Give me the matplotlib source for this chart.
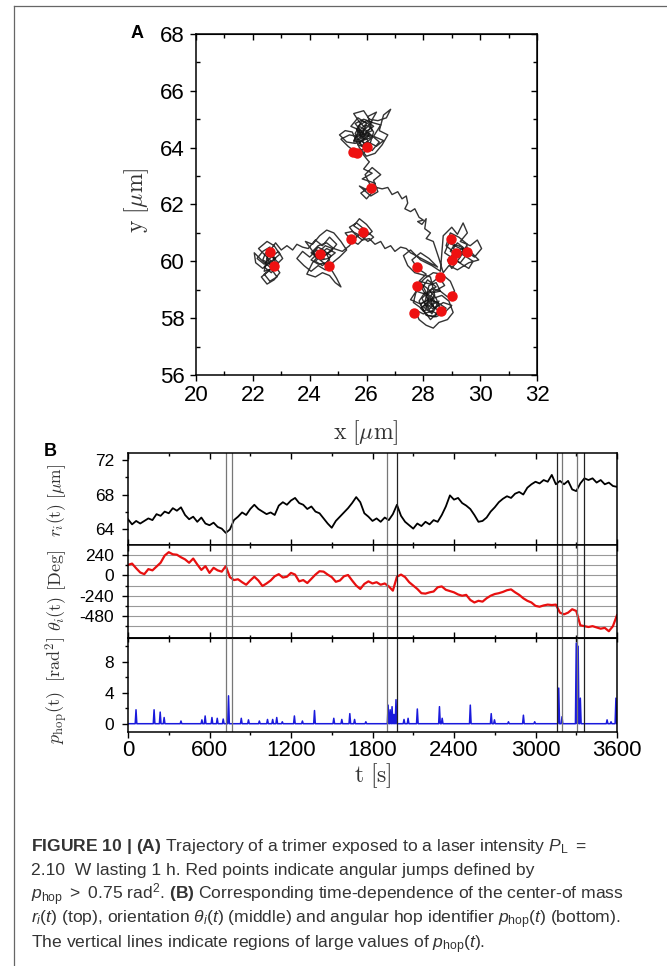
import numpy as np
import matplotlib
matplotlib.use("Agg")
import matplotlib.pyplot as plt
from matplotlib.ticker import MultipleLocator
from matplotlib.lines import Line2D

plt.rcParams['font.family'] = ['Liberation Sans', 'DejaVu Sans']
plt.rcParams['mathtext.fontset'] = 'cm'
plt.rcParams['mathtext.rm'] = 'Liberation Sans'
plt.rcParams['mathtext.it'] = 'Liberation Sans:italic'
plt.rcParams['mathtext.bf'] = 'Liberation Sans:bold'
plt.rcParams['axes.unicode_minus'] = False

W, H = 667, 966

# ---- panel A: trajectory, hand traced blob by blob ----
left_blob = [(22.60, 60.50), (22.35, 60.35), (22.15, 60.10), (22.40, 59.90), (22.65, 60.15),
             (22.90, 60.35), (23.05, 60.10), (22.80, 59.85), (22.55, 59.65), (22.30, 59.45),
             (22.50, 59.20), (22.75, 59.35), (22.95, 59.60), (22.70, 59.95), (22.45, 60.20),
             (22.20, 60.45), (22.50, 60.70), (22.75, 60.55), (22.95, 60.25), (22.65, 60.00),
             (22.35, 59.75), (22.10, 59.95), (22.05, 60.30), (22.30, 60.05), (22.60, 59.80),
             (22.85, 59.45), (22.60, 59.30), (22.40, 59.55), (22.65, 59.75), (22.90, 59.95),
             (22.55, 60.30), (22.80, 60.65)]
left_link = [(23.00, 60.40), (23.20, 60.55), (23.40, 60.40), (23.55, 60.60), (23.75, 60.50)]
mid_blob = [(23.95, 60.45), (24.20, 60.75), (24.45, 60.55), (24.70, 60.85), (24.95, 60.60),
            (24.75, 60.35), (24.50, 60.20), (24.25, 60.40), (24.00, 60.15), (23.75, 60.35),
            (23.55, 60.10), (23.80, 59.85), (24.05, 59.65), (24.30, 59.85), (24.55, 59.70),
            (24.80, 59.95), (25.05, 60.15), (25.30, 60.40), (25.10, 60.70), (24.85, 61.00),
            (24.60, 61.10), (24.35, 60.90), (24.10, 60.60), (23.85, 60.70), (24.15, 60.30),
            (24.40, 60.05), (24.65, 60.10), (24.90, 60.30), (24.60, 60.45), (24.35, 60.25),
            (24.10, 59.95), (23.90, 59.55), (24.20, 59.45), (24.45, 59.60), (24.70, 59.50),
            (24.90, 59.25), (25.10, 59.10), (24.95, 59.40), (24.80, 59.65), (24.55, 59.90),
            (24.30, 60.10), (24.05, 60.30), (24.30, 60.55), (24.60, 60.65), (24.85, 60.45),
            (25.15, 60.35), (25.40, 60.55)]
mid_lobe = [(25.60, 60.80), (25.85, 61.05), (25.55, 61.25), (25.75, 61.50), (26.00, 61.30),
            (26.20, 61.05), (25.95, 60.85), (25.70, 60.60), (25.45, 60.75), (25.25, 61.00),
            (25.50, 61.05), (25.80, 60.90), (26.05, 60.70), (26.25, 60.85), (25.90, 61.15),
            (25.65, 61.35), (25.40, 61.20), (25.60, 60.95), (25.85, 60.75)]
mid_link = [(26.10, 60.80), (26.30, 60.60), (26.50, 60.70), (26.65, 60.45), (26.85, 60.55),
            (27.00, 60.35), (27.20, 60.50), (27.40, 60.45), (27.55, 60.30)]
right_blob = [(28.50, 59.80), (28.20, 60.10), (27.90, 60.30), (27.60, 60.05), (27.80, 59.75),
              (28.10, 59.55), (27.85, 59.30), (28.25, 59.20), (28.55, 59.45), (28.75, 59.15),
              (28.40, 58.95), (28.05, 58.85), (27.75, 58.95), (27.55, 58.65), (27.90, 58.50),
              (28.20, 58.65), (28.50, 58.55), (28.80, 58.35), (28.60, 58.10), (28.30, 58.25),
              (28.00, 58.15), (27.70, 58.30), (27.85, 57.95), (28.10, 57.75), (28.35, 57.65),
              (28.55, 57.85), (28.85, 57.95), (29.05, 58.20), (28.90, 58.60), (28.65, 58.80),
              (28.35, 58.70), (28.10, 58.40), (27.95, 58.70), (28.20, 58.95), (28.45, 59.10),
              (28.15, 59.35), (27.95, 59.05), (28.30, 58.45), (28.55, 58.25), (28.25, 57.95),
              (28.00, 58.30), (27.65, 58.55), (27.80, 59.15), (28.05, 59.40), (28.35, 59.60),
              (28.65, 59.55), (28.95, 59.30), (29.10, 58.95), (28.85, 58.75), (28.60, 58.95),
              (28.30, 59.05), (28.10, 58.75), (28.40, 58.35), (28.70, 58.55), (29.00, 58.45),
              (28.75, 58.20), (28.45, 58.05), (28.15, 58.10), (27.90, 58.35), (28.15, 58.55),
              (28.40, 58.80), (28.25, 59.45), (27.70, 59.60), (27.45, 59.85), (27.30, 60.20),
              (27.55, 60.40), (27.90, 60.05), (28.30, 59.85), (28.60, 59.65)]
right_lobe = [(28.70, 60.90), (29.00, 61.20), (29.20, 60.95), (29.40, 61.35), (29.55, 61.00),
              (29.30, 60.70), (29.65, 60.55), (29.90, 60.75), (30.05, 60.45), (29.80, 60.15),
              (29.50, 60.35), (29.20, 60.50), (28.90, 60.65), (28.75, 60.30), (29.05, 60.10),
              (29.35, 59.90), (29.60, 59.75), (29.75, 60.00), (29.45, 60.20), (29.15, 60.35),
              (28.85, 60.05), (29.00, 59.75), (29.30, 60.15), (29.55, 60.60), (29.25, 60.85),
              (28.95, 61.00), (28.80, 60.55), (29.10, 60.30), (29.40, 60.45), (29.70, 60.30),
              (29.95, 60.05), (29.60, 59.95), (29.20, 59.70), (28.90, 59.85), (28.70, 59.60),
              (28.55, 60.10)]
diag_path = [(28.35, 60.70), (28.10, 60.80), (28.25, 61.00), (28.05, 61.15), (28.10, 61.50),
             (27.95, 61.30), (27.80, 61.40), (28.00, 61.45), (27.85, 61.55), (27.70, 61.85),
             (27.55, 61.75), (27.35, 61.85), (27.45, 62.05), (27.40, 62.30), (27.25, 62.20),
             (27.10, 62.45), (26.90, 62.35), (26.75, 62.60), (26.55, 62.55)]
neck = [(26.35, 62.60), (26.00, 62.20), (25.80, 62.40), (26.15, 62.65), (25.95, 63.05),
        (26.20, 63.30), (26.50, 63.05), (26.25, 62.85), (26.40, 62.45), (26.15, 62.30),
        (25.75, 62.65), (26.05, 62.50), (26.30, 62.75), (25.85, 62.90), (26.20, 63.10),
        (25.90, 63.25), (26.10, 63.50)]
top_blob = [(26.05, 63.55), (25.85, 63.80), (26.10, 63.95), (25.70, 64.10), (25.95, 64.35),
            (25.55, 64.25), (25.80, 64.60), (25.45, 64.75), (25.70, 65.05), (26.00, 64.85),
            (25.85, 64.45), (26.20, 64.60), (26.05, 65.10), (26.35, 65.25), (26.15, 64.90),
            (26.50, 64.80), (26.25, 64.40), (26.60, 64.25), (26.35, 64.05), (26.05, 64.20),
            (25.90, 63.95), (25.60, 63.85), (25.35, 64.05), (25.10, 64.30), (25.40, 64.45),
            (25.65, 64.40), (25.95, 64.70), (25.75, 64.90), (25.55, 65.20), (25.90, 65.30),
            (26.10, 65.00), (26.40, 64.95), (26.70, 65.05), (26.85, 65.35), (26.60, 65.15),
            (26.45, 64.60), (26.75, 64.45), (26.55, 64.10), (26.30, 63.80), (26.00, 63.70),
            (25.75, 64.00), (25.50, 64.55), (25.25, 64.60), (25.05, 64.45), (25.30, 64.20),
            (25.60, 64.15), (25.85, 64.25), (26.15, 64.35), (25.95, 64.55), (26.25, 64.75),
            (26.00, 64.95), (25.70, 64.75), (25.90, 64.15), (26.20, 63.90), (26.45, 64.20),
            (26.10, 64.50), (25.80, 64.35), (25.65, 64.65), (26.05, 64.40)]

# denser scribbles in the dark cores of the clusters
top_core = [(25.90, 64.50), (25.70, 64.30), (25.95, 64.15), (26.20, 64.35), (26.00, 64.60),
            (25.75, 64.75), (25.60, 64.50), (25.80, 64.10), (26.10, 64.05), (26.25, 64.55),
            (26.05, 64.85), (25.85, 64.95), (25.65, 64.65), (25.90, 64.40), (26.15, 64.70),
            (25.95, 64.80), (25.70, 64.55), (25.55, 64.20), (25.85, 64.25), (26.10, 64.45),
            (25.95, 64.30), (25.75, 64.45), (26.00, 64.70), (26.20, 64.90), (25.90, 65.00),
            (25.60, 64.85), (25.80, 64.60), (26.05, 64.25), (25.85, 64.05), (25.65, 64.35),
            (25.90, 64.55)]
right_core = [(28.20, 58.60), (28.00, 58.40), (28.25, 58.20), (28.50, 58.45), (28.30, 58.75),
              (28.05, 58.90), (27.85, 58.60), (28.10, 58.10), (28.40, 58.05), (28.60, 58.30),
              (28.45, 58.70), (28.20, 59.00), (27.95, 59.20), (28.15, 58.80), (28.40, 58.55),
              (28.25, 58.35), (28.00, 58.25), (27.90, 58.50), (28.15, 58.65), (28.35, 58.90),
              (28.60, 58.95), (28.45, 59.25), (28.20, 59.15), (28.05, 58.55), (28.30, 58.15),
              (28.55, 58.60), (28.30, 58.50), (28.10, 58.35), (28.20, 58.80), (28.40, 58.30),
              (28.15, 58.45)]
mid_core = [(24.40, 60.20), (24.20, 60.00), (24.45, 59.85), (24.70, 60.05), (24.55, 60.35),
            (24.30, 60.50), (24.10, 60.30), (24.35, 60.10), (24.60, 60.25), (24.80, 60.45),
            (24.55, 60.55), (24.25, 60.25), (24.05, 60.05), (24.30, 59.90), (24.60, 59.95),
            (24.75, 60.20), (24.45, 60.40), (24.20, 60.15), (24.50, 60.10)]
left_core = [(22.60, 60.00), (22.40, 59.80), (22.65, 59.60), (22.85, 59.85), (22.70, 60.15),
             (22.45, 60.30), (22.35, 60.05), (22.60, 59.90), (22.80, 60.10), (22.55, 60.35),
             (22.40, 59.65), (22.70, 59.75), (22.50, 60.10)]
lobe_core = [(29.20, 60.30), (29.00, 60.10), (29.30, 59.95), (29.50, 60.20), (29.35, 60.50),
             (29.10, 60.60), (28.95, 60.35), (29.25, 60.20), (29.45, 60.45), (29.20, 60.65),
             (29.05, 60.45), (29.30, 60.30), (29.55, 60.50)]

jump_x = [22.61, 22.73, 24.35, 24.67, 25.47, 25.87, 25.52, 25.67, 26.02, 26.16,
          27.79, 27.79, 27.67, 28.61, 28.59, 29.02, 28.96, 29.14, 29.02, 29.53]
jump_y = [60.32, 59.85, 60.25, 59.84, 60.79, 61.03, 63.84, 63.80, 64.01, 62.59,
          59.81, 59.14, 58.17, 58.26, 59.46, 58.78, 60.79, 60.30, 60.05, 60.34]

# ---- panel B: time series ----
t_step = 30
r_vals = [65.1, 64.5, 64.9, 64.6, 64.9, 65.2, 65.0, 65.7, 65.5, 66.0, 65.8, 66.4, 66.1, 66.5,
          65.6, 65.1, 65.4, 64.8, 65.3, 64.6, 64.4, 64.7, 64.2, 64.0, 63.5, 63.9, 65.0, 65.4,
          65.9, 65.6, 66.3, 66.8, 66.3, 66.0, 65.7, 65.9, 65.6, 66.7, 67.1, 66.8, 67.3, 67.6,
          67.0, 66.8, 66.3, 66.6, 66.0, 65.8, 65.2, 64.6, 64.1, 64.9, 65.4, 65.9, 66.4, 67.0,
          67.7, 67.1, 65.8, 65.4, 64.9, 65.2, 64.8, 65.3, 65.0, 65.7, 66.8, 65.5, 64.8, 64.4,
          64.0, 64.6, 64.3, 64.8, 64.5, 65.0, 64.8, 65.6, 66.6, 67.9, 67.4, 67.6, 67.0, 66.7,
          66.3, 65.6, 64.8, 64.9, 65.3, 66.0, 66.5, 67.1, 67.5, 67.8, 67.6, 68.1, 68.3, 68.0,
          68.8, 69.2, 69.5, 69.3, 69.7, 69.5, 70.3, 69.2, 69.6, 69.2, 69.6, 68.6, 68.4, 69.3,
          69.9, 69.7, 69.9, 69.4, 69.7, 69.2, 69.4, 69.0, 68.9]
theta_vals = [125, 140, 85, 35, 15, 75, 60, 105, 150, 235, 275, 250, 245, 215, 190, 150, 200,
              130, 65, 110, 30, 90, 60, 45, 110, -20, -55, -45, -80, -110, -60, -15, -60, -125,
              -95, -60, -10, 15, -25, -15, 30, 10, -70, -55, -90, -40, 10, 50, 45, 10, -20, -75,
              -60, -10, 5, -60, -120, -160, -100, -70, -95, -80, -110, -95, -130, -180, -15, 10,
              -20, -80, -120, -160, -210, -215, -200, -190, -140, -130, -170, -185, -200, -225,
              -240, -230, -290, -320, -300, -310, -270, -240, -220, -210, -195, -175, -165, -200,
              -230, -270, -300, -320, -360, -370, -355, -345, -350, -345, -440, -460, -440, -400,
              -420, -590, -600, -610, -600, -615, -630, -620, -660, -600, -470]
hop_t = [59, 192, 237, 266, 390, 544, 568, 618, 657, 701, 740, 834, 887, 967, 1027, 1065,
         1095, 1136, 1225, 1284, 1373, 1515, 1574, 1633, 1668, 1751, 1915, 1930, 1944, 1958,
         1973, 2032, 2062, 2130, 2293, 2313, 2520, 2674, 2698, 2801, 2911, 2994, 3171, 3195,
         3300, 3314, 3330, 3527, 3556, 3592]
hop_h = [1.8, 1.8, 1.5, 0.8, 0.35, 0.5, 1.0, 0.8, 0.7, 0.6, 3.6, 0.7, 0.5, 0.35, 0.55, 0.55,
         0.8, 0.25, 1.0, 0.35, 1.7, 0.7, 0.55, 1.3, 0.55, 0.25, 2.4, 1.8, 2.2, 1.2,
         3.1, 0.55, 0.7, 1.9, 2.2, 0.7, 2.4, 1.3, 0.5, 0.25, 1.1, 0.25, 4.6, 0.9,
         10.4, 10.0, 3.3, 0.5, 0.25, 3.3]
hop_lines = [725, 766, 1908, 1982, 3159, 3195, 3304, 3355]
theta_grid = [240, 120, 0, -120, -240, -360, -480, -600]

caption = [
    r"$\mathbf{FIGURE\ 10\ |\ (A)}$ Trajectory of a trimer exposed to a laser intensity $P_\mathrm{L}$ $=$",
    r"2.10  W lasting 1 h. Red points indicate angular jumps defined by",
    r"$p_\mathrm{hop}$ $>$ 0.75 rad$^2$. $\mathbf{(B)}$ Corresponding time-dependence of the center-of mass",
    r"$r_i(t)$ (top), orientation $\theta_i(t)$ (middle) and angular hop identifier $p_\mathrm{hop}(t)$ (bottom).",
    r"The vertical lines indicate regions of large values of $p_\mathrm{hop}(t)$.",
]


def box(l, t, r, b):
    return [l / W, 1 - b / H, (r - l) / W, (b - t) / H]


fig = plt.figure(figsize=(W / 100, H / 100), dpi=100)

# frame lines
fig.add_artist(Line2D([14 / W, 14 / W], [1 - 6 / H, 0], color='#666666', lw=0.9))
fig.add_artist(Line2D([14 / W, 1], [1 - 6 / H, 1 - 6 / H], color='#666666', lw=0.9))

# ---------------- panel A ----------------
axA = fig.add_axes(box(196, 34, 537, 375))
path = np.array(left_blob + left_link + mid_blob + mid_lobe + mid_link + right_blob
                + right_lobe + diag_path + neck + top_blob)
axA.plot(path[:, 0], path[:, 1], color='#111111', lw=1.0, alpha=0.85)
for core in (top_core, right_core, mid_core, left_core, lobe_core):
    c = np.array(core)
    axA.plot(c[:, 0], c[:, 1], color='#111111', lw=1.0, alpha=0.85)
axA.plot(jump_x, jump_y, 'o', color='#ee1111', ms=6.5, mec='#ee1111', zorder=5)
axA.set_xlim(20, 32)
axA.set_ylim(56, 68)
axA.xaxis.set_major_locator(MultipleLocator(2))
axA.xaxis.set_minor_locator(MultipleLocator(1))
axA.yaxis.set_major_locator(MultipleLocator(2))
axA.yaxis.set_minor_locator(MultipleLocator(1))
axA.tick_params(which='major', direction='out', length=4, width=1, labelsize=16, pad=3)
axA.tick_params(which='minor', direction='in', length=3, width=1)
axA.tick_params(axis='y', which='major', pad=4)
for s in axA.spines.values():
    s.set_linewidth(1.1)
for side in ('top', 'right'):
    sec = axA.secondary_xaxis('top') if side == 'top' else axA.secondary_yaxis('right')
    loc = sec.xaxis if side == 'top' else sec.yaxis
    loc.set_major_locator(MultipleLocator(2))
    loc.set_minor_locator(MultipleLocator(1))
    sec.tick_params(which='both', direction='in', length=3, width=1, labelsize=0)
    sec.tick_params(which='major', length=4)
    loc.set_ticklabels([])
fig.text(366 / W, 1 - 433 / H, r'$\mathrm{x}\ [\mu\mathrm{m}]$', ha='center', va='center',
         fontsize=17, color='#333333')
fig.text(137 / W, 1 - 200 / H, r'$\mathrm{y}\ [\mu\mathrm{m}]$', ha='center', va='center',
         fontsize=17, rotation=90, color='#333333')
fig.text(137 / W, 1 - 34 / H, 'A', ha='center', va='center', fontsize=13, fontweight='bold')

# ---------------- panel B ----------------
t_vals = np.arange(len(r_vals)) * t_step
ph_t, ph_v = [0.0], [0.0]
for tt, hh in zip(hop_t, hop_h):
    ph_t += [tt - 6, tt, tt + 6]
    ph_v += [0.0, hh, 0.0]
ph_t.append(3600.0)
ph_v.append(0.0)

axr = fig.add_axes(box(128, 453, 617, 545))
axq = fig.add_axes(box(128, 545, 617, 638))
axp = fig.add_axes(box(128, 638, 617, 732))

axr.plot(t_vals, r_vals, color='black', lw=1.3)
axq.plot(t_vals, theta_vals, color='#e81010', lw=1.6)
for g in theta_grid:
    axq.axhline(g, color='#999999', lw=0.8, zorder=0)
axp.plot(ph_t, ph_v, color='#1a1adc', lw=1.1)

axr.set_ylim(62.08, 72.87)
axq.set_ylim(-740, 360)
axp.set_ylim(-1.07, 11.06)
axr.yaxis.set_major_locator(MultipleLocator(4))
axr.yaxis.set_minor_locator(MultipleLocator(2))
axq.set_yticks([240, 0, -240, -480])
axq.set_yticks([120, -120, -360, -600], minor=True)
axp.yaxis.set_major_locator(MultipleLocator(4))
axp.yaxis.set_minor_locator(MultipleLocator(2))

line_cols = ['#777777', '#777777', '#777777', '#222222', '#222222', '#777777', '#777777', '#222222']
for ax in (axr, axq, axp):
    ax.set_xlim(0, 3600)
    ax.xaxis.set_major_locator(MultipleLocator(600))
    ax.xaxis.set_minor_locator(MultipleLocator(300))
    for s in ax.spines.values():
        s.set_linewidth(1.1)
    for tl, c in zip(hop_lines, line_cols):
        ax.axvline(tl, color=c, lw=0.9)
    ax.tick_params(axis='y', which='major', direction='out', length=4, width=1,
                   labelsize=12.5, pad=6)
    ax.tick_params(axis='y', which='minor', direction='out', length=2.5, width=1)
    ax.tick_params(axis='x', which='major', length=4, width=1)
    ax.tick_params(axis='x', which='minor', length=2.5, width=1)

for ax in (axr, axq):
    ax.tick_params(axis='x', which='both', direction='in', top=True, bottom=True,
                   labelbottom=False)
axp.tick_params(axis='x', which='both', direction='out', labelsize=16, pad=2)
sec = axp.secondary_xaxis('top')
sec.xaxis.set_major_locator(MultipleLocator(600))
sec.xaxis.set_minor_locator(MultipleLocator(300))
sec.tick_params(which='both', direction='in', length=3, width=1)
sec.xaxis.set_ticklabels([])

fig.text(57 / W, 1 - 500 / H, r'$r_i(\mathrm{t})\ [\mu\mathrm{m}]$', rotation=90,
         ha='center', va='center', fontsize=12.5, color='#333333')
fig.text(57 / W, 1 - 591 / H, r'$\theta_i(\mathrm{t})\ [\mathrm{Deg}]$', rotation=90,
         ha='center', va='center', fontsize=13, color='#333333')
fig.text(57 / W, 1 - 690 / H, r'$p_\mathrm{hop}(\mathrm{t})\ \ [\mathrm{rad}^2]$', rotation=90,
         ha='center', va='center', fontsize=13, color='#333333')
fig.text(373 / W, 1 - 776 / H, r'$\mathrm{t}\ [\mathrm{s}]$', ha='center', va='center',
         fontsize=17, color='#333333')
fig.text(50 / W, 1 - 451 / H, 'B', ha='center', va='center', fontsize=13, fontweight='bold')

# ---------------- caption ----------------
for i, line in enumerate(caption):
    fig.text(31 / W, 1 - (851 + 24.2 * i) / H, line, ha='left', va='baseline',
             fontsize=12.6, color='#333333', math_fontfamily='custom')

fig.savefig('out.png', dpi=100)
